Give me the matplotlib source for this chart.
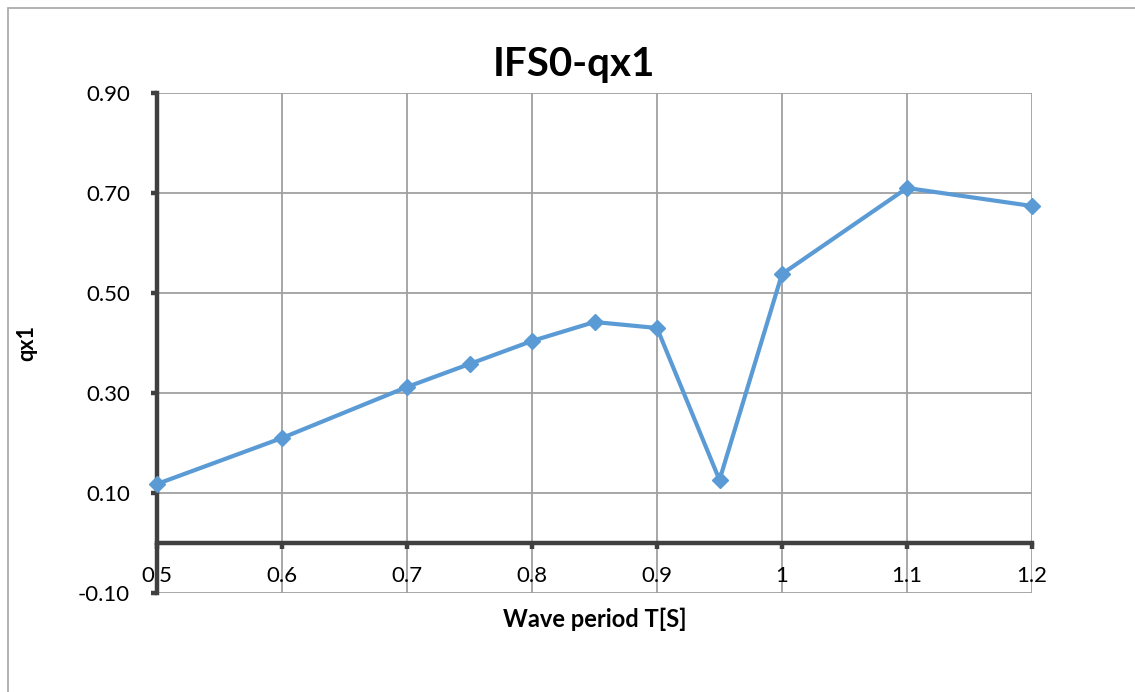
import matplotlib.pyplot as plt
from matplotlib.patches import Rectangle

# wave period vs qx1
periods = [0.5, 0.6, 0.7, 0.75, 0.8, 0.85, 0.9, 0.95, 1.0, 1.1, 1.2]
qx1 = [0.118, 0.210, 0.312, 0.358, 0.404, 0.442, 0.430, 0.126, 0.538, 0.710, 0.674]

x_ticks = [0.5, 0.6, 0.7, 0.8, 0.9, 1.0, 1.1, 1.2]
x_tick_labels = ["0.5", "0.6", "0.7", "0.8", "0.9", "1", "1.1", "1.2"]
y_ticks = [-0.1, 0.1, 0.3, 0.5, 0.7, 0.9]

plt.rcParams["font.family"] = ["Lato", "DejaVu Sans"]

W, H = 1135, 692
fig = plt.figure(figsize=(W / 100, H / 100), dpi=100)

# outer chart frame
fig.add_artist(Rectangle((8 / W, -0.01), 1.1, 1 - 8 / H + 0.01, transform=fig.transFigure,
                         fill=False, edgecolor="#a6a6a6", linewidth=1.2))

ax = fig.add_axes([157 / W, (H - 593) / H, 875 / W, 500 / H])

ax.plot(periods, qx1, color="#5b9bd5", linewidth=3.0, marker="D", markersize=8,
        zorder=3, clip_on=False)

ax.set_xlim(0.5, 1.2)
ax.set_ylim(-0.1, 0.9)
ax.set_xticks(x_ticks)
ax.set_xticklabels(x_tick_labels)
ax.set_yticks(y_ticks)
ax.set_yticklabels(["{:.2f}".format(v) for v in y_ticks])

ax.grid(True, color="#a0a0a0", linewidth=1.3)
ax.set_axisbelow(True)

for side in ("top", "right"):
    ax.spines[side].set_visible(False)
ax.spines["left"].set_position(("data", 0.5))
ax.spines["bottom"].set_position(("data", 0.0))
for side in ("left", "bottom"):
    ax.spines[side].set_color("#404040")
    ax.spines[side].set_linewidth(3.2)
    ax.spines[side].set_capstyle("projecting")

ax.tick_params(axis="both", direction="out", length=4.5, width=3.2, color="#404040",
               labelsize=16, labelcolor="black")
ax.tick_params(axis="x", pad=12)
ax.tick_params(axis="y", pad=15)

ax.set_title("IFS0-qx1", fontsize=29, fontweight="bold", pad=12, x=0.476)
ax.set_ylabel("qx1", fontsize=15.5, fontweight="bold")
ax.yaxis.set_label_coords(-0.137, 0.5)
ax.set_xlabel("Wave period T[S]", fontsize=17, fontweight="bold")
ax.xaxis.set_label_coords(0.5, -0.03)

fig.savefig("out.png", dpi=100)
